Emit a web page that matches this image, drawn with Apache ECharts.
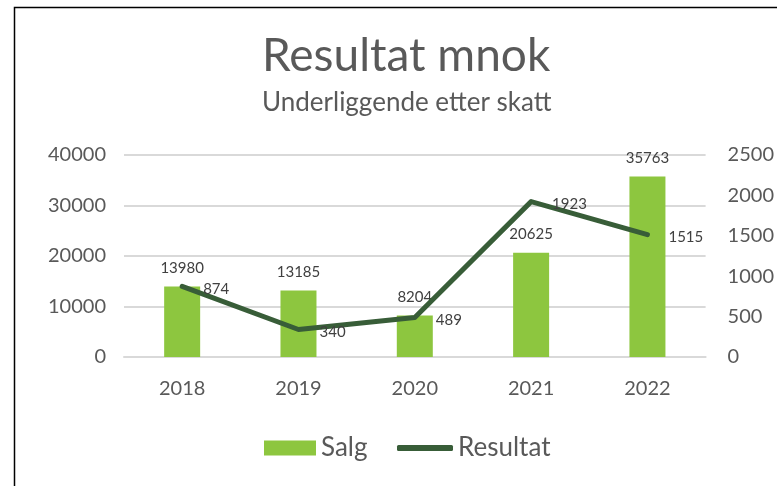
<!DOCTYPE html>
<html>
<head>
<meta charset="utf-8">
<script src="https://cdn.jsdelivr.net/npm/echarts@6/dist/echarts.min.js"></script>
<style>
html, body { margin: 0; padding: 0; background: #fff; }
#chart { width: 777px; height: 486px; }
</style>
</head>
<body>
<div id="chart"></div>
<script>
var years = ['2018', '2019', '2020', '2021', '2022'];
var salg = [13980, 13185, 8204, 20625, 35763];
var resultat = [874, 340, 489, 1923, 1515];

var textColor = '#595959';
var font = 'Lato, "Open Sans", sans-serif';

var myChart = echarts.init(document.getElementById('chart'));

// no thousands separator on the axes
function plain(v) { return String(v); }

var option = {
	backgroundColor: '#fff',
	textStyle: { fontFamily: font },
	graphic: [{
		type: 'rect',
		shape: { x: 14.5, y: 7.5, width: 800, height: 500 },
		style: { fill: 'none', stroke: '#000', lineWidth: 1.5 },
		silent: true
	}],
	title: [{
		text: 'Resultat mnok',
		left: 262,
		top: 33,
		padding: 0,
		textStyle: { fontSize: 46, fontWeight: 'normal', color: textColor, fontFamily: font }
	}, {
		text: 'Underliggende etter skatt',
		left: 262,
		top: 90,
		padding: 0,
		textStyle: { fontSize: 26, fontWeight: 'normal', color: textColor, fontFamily: font }
	}],
	legend: [{
		top: 430,
		left: 259,
		itemWidth: 52,
		itemHeight: 15,
		itemGap: 6,
		textStyle: { fontSize: 26, color: textColor, fontFamily: font },
		data: [{ name: 'Salg', icon: 'rect' }]
	}, {
		top: 430,
		left: 392,
		itemWidth: 56,
		itemHeight: 6,
		itemGap: 4,
		textStyle: { fontSize: 26, color: textColor, fontFamily: font },
		data: [{ name: 'Resultat', icon: 'roundRect' }]
	}],
	grid: { left: 124, right: 70, top: 155, bottom: 129 },
	xAxis: {
		type: 'category',
		data: years,
		axisLine: { lineStyle: { color: '#d9d9d9', width: 2 } },
		axisTick: { show: false },
		axisLabel: { color: textColor, fontSize: 20, margin: 22 }
	},
	yAxis: [{
		type: 'value',
		min: 0,
		max: 40000,
		interval: 10000,
		axisLabel: { color: textColor, fontSize: 20, margin: 18, formatter: plain },
		splitLine: { lineStyle: { color: '#d9d9d9', width: 2 } }
	}, {
		type: 'value',
		min: 0,
		max: 2500,
		interval: 500,
		axisLabel: { color: textColor, fontSize: 20, margin: 22, align: 'left', formatter: plain },
		splitLine: { show: false }
	}],
	series: [{
		name: 'Salg',
		type: 'bar',
		data: salg,
		barWidth: 36,
		itemStyle: { color: '#8dc63f' },
		label: {
			show: true,
			position: 'top',
			distance: 11,
			color: '#404040',
			fontSize: 15
		}
	}, {
		name: 'Resultat',
		type: 'line',
		yAxisIndex: 1,
		data: resultat,
		symbol: 'circle',
		symbolSize: 2,
		lineStyle: { color: '#385d38', width: 5, cap: 'round', join: 'round' },
		itemStyle: { color: '#385d38' },
		label: {
			show: true,
			position: 'right',
			distance: 20,
			offset: [0, 3],
			color: '#404040',
			fontSize: 15
		}
	}]
};

myChart.setOption(option);
</script>
</body>
</html>
